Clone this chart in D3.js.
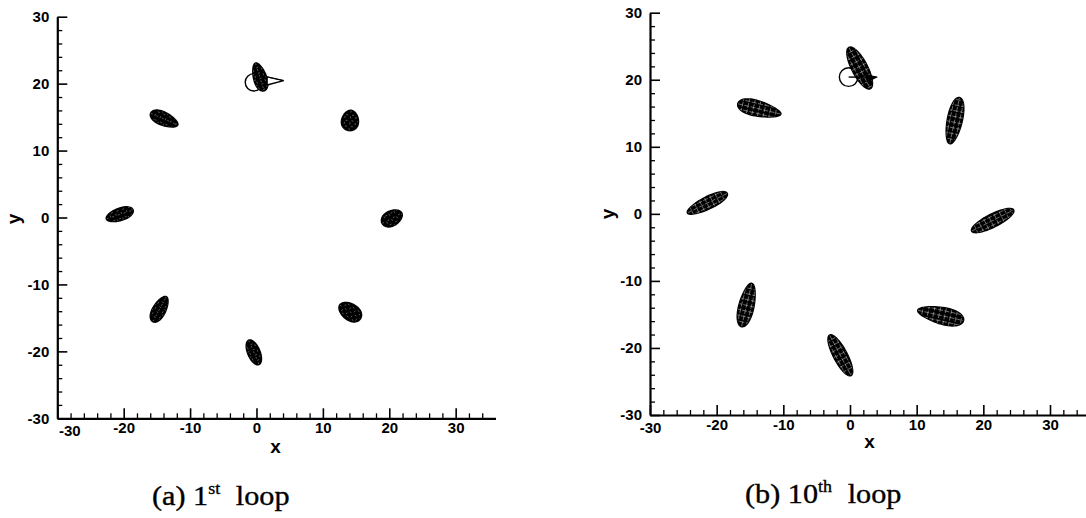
<!DOCTYPE html>
<html>
<head>
<meta charset="utf-8">
<script src="https://cdn.jsdelivr.net/npm/d3@7"></script>
<style>
  body { margin: 0; background: #fff; }
  svg { display: block; }
  .tick text { font-family: 'Liberation Sans', Arial, sans-serif; font-weight: bold; font-size: 15px; fill: #000; }
  .title { font-family: 'Liberation Sans', Arial, sans-serif; font-weight: bold; font-size: 19px; }
  .caption { font-family: 'Liberation Serif', 'Times New Roman', serif; font-size: 27px; stroke: #000; stroke-width: 0.35; }
</style>
</head>
<body>
<svg id="chart" width="1086" height="518"></svg>
<script>
// tick values (same for both panels)
var majorTicks = [-30, -20, -10, 0, 10, 20, 30]
var minorXTicks = [-28, -26, -24, -22, -18, -16, -14, -12, -8, -6, -4, -2, 2, 4, 6, 8, 12, 14, 16, 18, 22, 24, 26, 28, 32, 34]
var minorYTicks = [-28, -26, -24, -22, -18, -16, -14, -12, -8, -6, -4, -2, 2, 4, 6, 8, 12, 14, 16, 18, 22, 24, 26, 28]

// fish bodies: [cx, cy, length, width, angle(deg), skew]
var loop1Bodies = [
  [0.5, 21.0, 4.3, 1.9, -72.6, 0.2],
  [-13.9, 14.7, 4.4, 1.9, -23.5, -0.2],
  [-20.6, 0.45, 4.2, 1.8, 18.4, 0.1],
  [-14.6, -13.7, 4.2, 1.9, 61, -0.15],
  [-0.4, -20.15, 3.9, 1.8, -66.8, 0],
  [14.1, -14.1, 3.7, 2.4, -33.7, 0.1],
  [20.4, -0.1, 3.3, 2.2, 28, -0.1],
  [14.1, 14.5, 3.0, 2.5, -96, 0.15]
]
var loop10Bodies = [
  [1.45, 21.75, 6.9, 2.3, -62.3, 0],
  [-13.6, 15.65, 6.6, 2.2, -13.5, -0.3],
  [-21.4, 1.6, 6.6, 1.8, 26, 0.1],
  [-15.5, -13.6, 6.6, 2.2, 76.5, -0.15],
  [-1.45, -21.1, 6.8, 2.0, -61.9, 0],
  [13.6, -15.15, 7.0, 2.4, -12.7, 0.25],
  [21.4, -1.0, 7.0, 1.9, 26.6, 0],
  [15.7, 13.9, 7.0, 2.2, 78, 0.1]
]

// cylinder at (0, 20) and the marks attached to it
var cylinder1 = [-0.4, 20.2, 1.3]
var cylinder10 = [-0.2, 20.4, 1.4]
var cone1 = [[1.6, 21.0], [4.1, 20.45], [1.6, 19.8]]
var radius10 = [[-0.2, 20.4], [4.0, 20.4]]
var fin10 = [[2.3, 20.9], [4.2, 20.4], [2.6, 19.6]]

var svg = d3.select('#chart')

var panels = [
  {id: 'a', left: 57.3, right: 495.5, top: 16.7, bottom: 418.3, bodies: loop1Bodies,
    cyl: cylinder1, mesh: 0.5, xt: [275.5, 453], yt: [14, 219], capX: 152, capY: 505,
    cap: ['(a) 1', 'st', 'loop'], x30shift: 12},
  {id: 'b', left: 650, right: 1090, top: 12.7, bottom: 415, bodies: loop10Bodies,
    cyl: cylinder10, mesh: 0.6, xt: [869.5, 448], yt: [608, 214], capX: 745, capY: 503,
    cap: ['(b) 10', 'th', 'loop'], x30shift: 0}
]

function local (b, u, v) {
  var a = b[4] * Math.PI / 180
  return [b[0] + u * Math.cos(a) - v * Math.sin(a), b[1] + u * Math.sin(a) + v * Math.cos(a)]
}

function outline (b) {
  return d3.range(0, 60).map(function (i) {
    var t = i / 60 * 2 * Math.PI
    var u = b[2] / 2 * Math.cos(t)
    var v = b[3] / 2 * Math.sin(t) * (1 + b[5] * Math.cos(t))
    return local(b, u, v)
  })
}

// white mesh lines inside a body, in its own frame
function mesh (b) {
  var lines = []
  var L = b[2], W = b[3]
  ;[-W / 3, 0, W / 3].forEach(function (v) {
    lines.push([local(b, -L / 2, v), local(b, L / 2, v)])
  })
  for (var u = -L / 2 + 0.7; u < L / 2; u += 0.85) {
    lines.push([local(b, u, -W), local(b, u, W)])
  }
  return lines
}

function drawPanel (p) {
  var x = d3.scaleLinear().domain([-30, 36]).range([p.left, p.right])
  var y = d3.scaleLinear().domain([-30, 30]).range([p.bottom, p.top])
  var g = svg.append('g')
  var line = d3.line().x((d) => x(d[0])).y((d) => y(d[1]))
  var closed = d3.line().x((d) => x(d[0])).y((d) => y(d[1])).curve(d3.curveLinearClosed)

  // cylinder
  g.append('circle')
    .attr('cx', x(p.cyl[0])).attr('cy', y(p.cyl[1]))
    .attr('r', x(p.cyl[2]) - x(0))
    .attr('fill', 'none').attr('stroke', '#000').attr('stroke-width', 1.4)

  // bodies
  p.bodies.forEach(function (b, i) {
    var pts = outline(b)
    var id = 'clip-' + p.id + i
    g.append('clipPath').attr('id', id).append('path').attr('d', closed(pts))
    g.append('path').attr('d', closed(pts))
      .attr('fill', '#000').attr('stroke', '#000').attr('stroke-width', 1.8)
    g.append('g').attr('clip-path', 'url(#' + id + ')')
      .selectAll('path').data(mesh(b)).enter().append('path')
      .attr('d', line)
      .attr('stroke', '#fff').attr('stroke-opacity', p.mesh)
      .attr('stroke-width', 0.7)
      .attr('stroke-dasharray', p.id === 'a' ? '2,4' : '5,1.5')
  })

  if (p.id === 'a') {
    g.append('path').attr('d', closed(cone1))
      .attr('fill', '#fff').attr('stroke', '#000').attr('stroke-width', 1.4)
    g.append('path').attr('d', line([cone1[0], cone1[1]]))
      .attr('stroke', '#000').attr('stroke-width', 0.8)
  } else {
    g.append('path').attr('d', closed(fin10)).attr('fill', '#000')
    g.append('path').attr('d', line(radius10))
      .attr('stroke', '#000').attr('stroke-width', 1.4)
  }

  // axes, ticks pointing inward
  var xAxis = g.append('g').attr('transform', 'translate(0,' + p.bottom + ')')
    .call(d3.axisBottom(x).tickValues(majorTicks).tickSize(-10).tickSizeOuter(0)
      .tickPadding(4).tickFormat((d) => String(d)))
  xAxis.select('.domain').attr('stroke-width', 2.2)
  xAxis.selectAll('.tick line').attr('stroke-width', 1.6)
  xAxis.selectAll('.tick text').filter((d) => d === -30).attr('dx', p.x30shift).attr('y', 7)

  g.append('g').attr('transform', 'translate(0,' + p.bottom + ')')
    .call(d3.axisBottom(x).tickValues(minorXTicks).tickSize(-5).tickFormat(''))
    .call((s) => s.select('.domain').remove())
    .selectAll('.tick line').attr('stroke-width', 1.3)

  var yAxis = g.append('g').attr('transform', 'translate(' + p.left + ',0)')
    .call(d3.axisLeft(y).tickValues(majorTicks).tickSize(-10).tickSizeOuter(0)
      .tickPadding(8).tickFormat((d) => String(d)))
  yAxis.select('.domain').attr('stroke-width', 2.2)
  yAxis.selectAll('.tick line').attr('stroke-width', 1.6)

  g.append('g').attr('transform', 'translate(' + p.left + ',0)')
    .call(d3.axisLeft(y).tickValues(minorYTicks).tickSize(-5).tickFormat(''))
    .call((s) => s.select('.domain').remove())
    .selectAll('.tick line').attr('stroke-width', 1.3)

  // axis titles
  g.append('text').attr('class', 'title')
    .attr('x', p.xt[0]).attr('y', p.xt[1]).attr('text-anchor', 'middle').text('x')
  g.append('text').attr('class', 'title')
    .attr('transform', 'translate(' + p.yt[0] + ',' + p.yt[1] + ') rotate(-90)')
    .attr('text-anchor', 'middle').attr('dy', '0.3em').text('y')

  // caption
  var cap = g.append('text').attr('class', 'caption')
    .attr('transform', 'translate(' + p.capX + ',' + p.capY + ') scale(1.12,1)')
  cap.append('tspan').text(p.cap[0])
  cap.append('tspan').attr('font-size', 16).attr('dy', -11).text(p.cap[1])
  cap.append('tspan').attr('dy', 11).attr('dx', 14).text(p.cap[2])
}

panels.forEach(drawPanel)
</script>
</body>
</html>
